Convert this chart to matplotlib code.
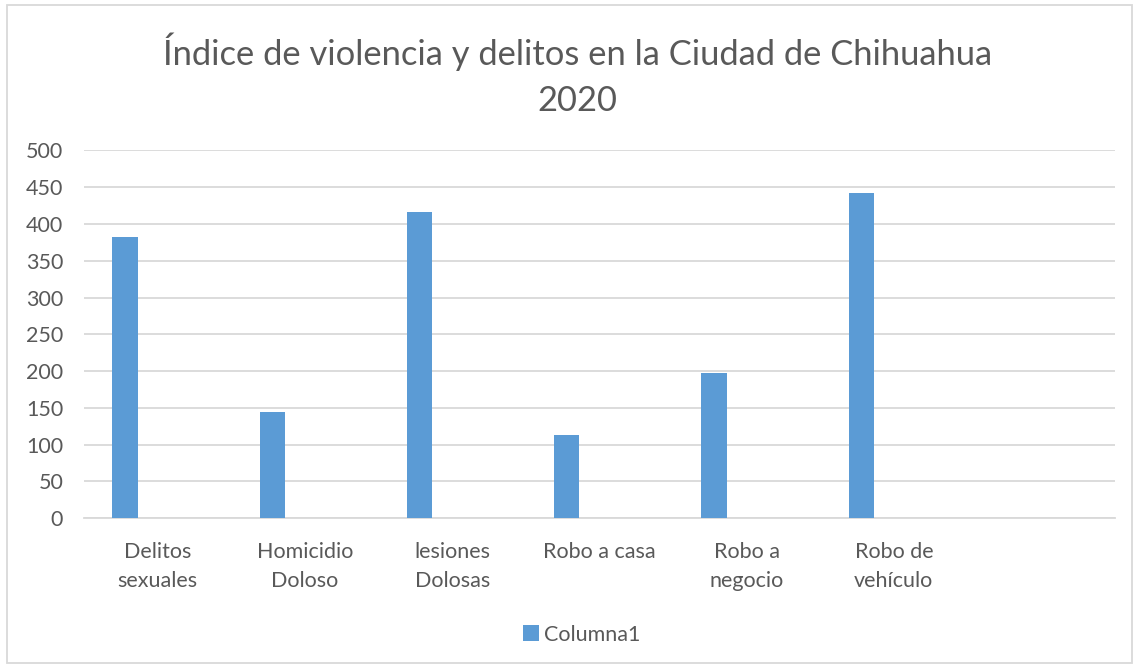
import matplotlib.pyplot as plt
import numpy as np
from matplotlib.patches import Rectangle

# data
categories = ['Delitos\nsexuales', 'Homicidio\nDoloso', 'lesiones\nDolosas',
              'Robo a casa', 'Robo a\nnegocio', 'Robo de\nvehículo', '']
values = [382, 144, 416, 113, 198, 442, np.nan]
y_ticks = [0, 50, 100, 150, 200, 250, 300, 350, 400, 450, 500]

plt.rcParams['font.family'] = ['Lato', 'DejaVu Sans']
text_color = '#595959'
bar_color = '#5B9BD5'
grid_color = '#D9D9D9'

fig = plt.figure(figsize=(11.34, 6.66), dpi=100)
ax = fig.add_axes([0.0741, 0.2218, 0.9089, 0.5525])

x = np.arange(len(categories))
ax.bar(x - 0.222, values, width=0.172, color=bar_color, label='Columna1', zorder=3)

ax.set_xlim(-0.5, len(categories) - 0.5)
ax.set_ylim(0, 500)
ax.set_yticks(y_ticks)
ax.set_xticks(x)
ax.set_xticklabels(categories, fontsize=15.5, color=text_color, linespacing=1.55)
ax.tick_params(axis='y', labelsize=15.5, colors=text_color, length=0, pad=15)
ax.tick_params(axis='x', length=0, pad=17)
for lbl in ax.get_yticklabels():
    lbl.set_color(text_color)

ax.grid(axis='y', color=grid_color, linewidth=1.3, zorder=0)
for s in ['top', 'right', 'left']:
    ax.spines[s].set_visible(False)
ax.spines['bottom'].set_color(grid_color)
ax.spines['bottom'].set_linewidth(1.3)

fig.text(0.509, 0.888, 'Índice de violencia y delitos en la Ciudad de Chihuahua\n2020',
         ha='center', va='center', fontsize=24.8, color=text_color, linespacing=1.55)

ax.legend(loc='center', bbox_to_anchor=(0.483, -0.316), bbox_transform=ax.transAxes,
          frameon=False, fontsize=15.5, labelcolor=text_color, handlelength=0.7,
          handleheight=0.7, handletextpad=0.25)

# chart border
fig.patches.append(Rectangle((0.0066, 0.005), 0.9917, 0.987, transform=fig.transFigure,
                             fill=False, edgecolor='#D9D9D9', linewidth=1.3))

plt.savefig('out.png', dpi=100)
